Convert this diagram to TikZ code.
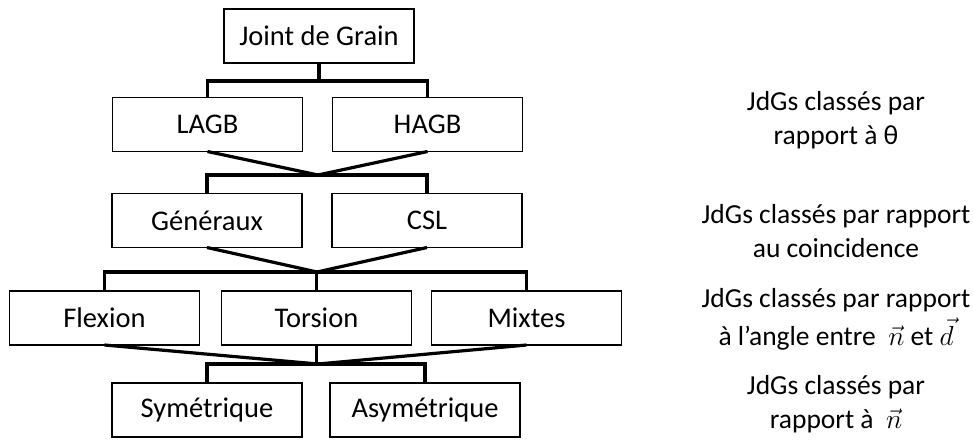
\RequirePackage{fix-cm}
\documentclass[tikz,border=0pt]{standalone}
\usepackage{fontspec}
\setmainfont{Carlito}
\begin{document}
\begin{tikzpicture}[x=1pt,y=-1pt,
	box/.style={draw,line width=1.3pt,minimum width=190pt,minimum height=54pt,inner sep=0pt,outer sep=0pt,font=\fontsize{28.5}{33}\selectfont},
	link/.style={line width=3.2pt,line join=miter},
	note/.style={align=center,font=\fontsize{27.5}{34}\selectfont}]
	\useasboundingbox (0,0) rectangle (974,445);
	\node[box] (jdg) at (319,36) {Joint de Grain};
	\node[box] (lagb) at (207.5,124.5) {LAGB};
	\node[box] (hagb) at (427.5,124.5) {HAGB};
	\node[box] (gen) at (207,220.5) {Généraux};
	\node[box] (csl) at (427,220.5) {CSL};
	\node[box] (flex) at (104.5,318) {Flexion};
	\node[box] (tors) at (316.5,318) {Torsion};
	\node[box] (mix) at (526.5,318) {Mixtes};
	\node[box] (sym) at (207,410) {Symétrique};
	\node[box] (asym) at (425,410) {Asymétrique};
	% connecteurs
	\coordinate (b1) at (319,81);
	\coordinate (c1) at (318,175);
	\coordinate (c2) at (317,272);
	\coordinate (c3) at (318,364);
	\draw[link] (jdg.south) -- (b1);
	\draw[link] (lagb.north) |- (b1) -| (hagb.north);
	\draw[link] (lagb.south) -- (c1) -- (hagb.south);
	\draw[link] (gen.north) |- (c1) -| (csl.north);
	\draw[link] (gen.south) -- (c2) -- (csl.south);
	\draw[link] (flex.north) |- (c2) -| (mix.north);
	\draw[link] (tors.north) -- (tors.north |- c2);
	\draw[link] (flex.south) -- (c3) -- (mix.south);
	\draw[link] (tors.south) -- (tors.south |- c3);
	\draw[link] (sym.north) |- (c3) -| (asym.north);
	% textes a droite
	\node[note] (t1) at (836,120) {JdGs classés par\\rapport à θ};
	\node[note] (t2) at (836,231) {JdGs classés par rapport\\au coincidence};
	\node[note] (t3) at (836,319) {JdGs classés par rapport\\[4pt]à l’angle entre~ $\vec{n}$ et $\vec{d}$};
	\node[note] (t4) at (836,404) {JdGs classés par\\rapport à~ $\vec{n}$};
\end{tikzpicture}
\end{document}
